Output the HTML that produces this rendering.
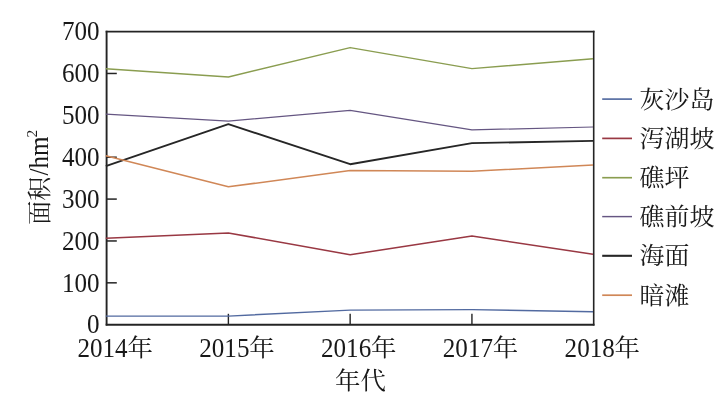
<!DOCTYPE html>
<html lang="zh"><head><meta charset="utf-8"><title>chart</title>
<style>
html,body{margin:0;padding:0;background:#fff;}
body{width:722px;height:405px;overflow:hidden;}
svg{display:block;}
text{font-family:"Liberation Serif","Noto Serif CJK SC",serif;font-size:24px;fill:#181818;}
</style></head><body>
<svg width="722" height="405" viewBox="0 0 722 405">
<rect width="722" height="405" fill="#fff"/>
<path d="M106.6,282.83 H116.8" stroke="#242424" stroke-width="1.5"/>
<path d="M106.6,240.96 H116.8" stroke="#242424" stroke-width="1.5"/>
<path d="M106.6,199.09 H116.8" stroke="#242424" stroke-width="1.5"/>
<path d="M106.6,157.21 H116.8" stroke="#242424" stroke-width="1.5"/>
<path d="M106.6,73.47 H116.8" stroke="#242424" stroke-width="1.5"/>
<path d="M228.38,324.7 V313.8" stroke="#242424" stroke-width="1.4"/>
<path d="M350.15,324.7 V313.8" stroke="#242424" stroke-width="1.4"/>
<path d="M471.93,324.7 V313.8" stroke="#242424" stroke-width="1.4"/>
<path d="M106.6,30.8 V325.60" stroke="#242424" stroke-width="1.9" fill="none"/>
<path d="M105.70,324.7 H594.5" stroke="#242424" stroke-width="1.9" fill="none"/>
<path d="M105.70,31.6 H594.5" stroke="#242424" stroke-width="1.6" fill="none"/>
<path d="M593.7,30.8 V325.60" stroke="#242424" stroke-width="1.6" fill="none"/>
<polyline points="105.80,316.10 228.38,316.10 350.15,310.10 471.93,309.60 593.00,311.70" fill="none" stroke="#526AA0" stroke-width="1.45" stroke-linejoin="round"/>
<polyline points="105.80,238.20 228.38,232.90 350.15,254.80 471.93,236.10 593.00,254.20" fill="none" stroke="#993843" stroke-width="1.5" stroke-linejoin="round"/>
<polyline points="105.80,68.70 228.38,77.00 350.15,47.60 471.93,68.60 593.00,58.70" fill="none" stroke="#8A9D50" stroke-width="1.45" stroke-linejoin="round"/>
<polyline points="105.80,114.20 228.38,121.10 350.15,110.40 471.93,129.90 593.00,127.00" fill="none" stroke="#655682" stroke-width="1.25" stroke-linejoin="round"/>
<polyline points="105.80,166.20 228.38,124.20 350.15,164.20 471.93,143.10 593.00,140.90" fill="none" stroke="#262626" stroke-width="1.9" stroke-linejoin="round"/>
<polyline points="105.80,155.80 228.38,186.80 350.15,170.60 471.93,171.30 593.00,165.10" fill="none" stroke="#D08757" stroke-width="1.5" stroke-linejoin="round"/>
<text transform="translate(99.50,333.40) scale(1.045,1.15)" text-anchor="end">0</text>
<text transform="translate(99.50,291.53) scale(1.045,1.15)" text-anchor="end">100</text>
<text transform="translate(99.50,249.66) scale(1.045,1.15)" text-anchor="end">200</text>
<text transform="translate(99.50,207.79) scale(1.045,1.15)" text-anchor="end">300</text>
<text transform="translate(99.50,165.91) scale(1.045,1.15)" text-anchor="end">400</text>
<text transform="translate(99.50,124.04) scale(1.045,1.15)" text-anchor="end">500</text>
<text transform="translate(99.50,82.17) scale(1.045,1.15)" text-anchor="end">600</text>
<text transform="translate(99.50,40.30) scale(1.045,1.15)" text-anchor="end">700</text>
<text transform="translate(77.50,356.70) scale(1.045,1.15)" text-anchor="start">2014</text>
<text transform="translate(127.50,355.80) scale(1.06,0.985)" text-anchor="start">年</text>
<text transform="translate(199.28,356.70) scale(1.045,1.15)" text-anchor="start">2015</text>
<text transform="translate(249.28,355.80) scale(1.06,0.985)" text-anchor="start">年</text>
<text transform="translate(321.05,356.70) scale(1.045,1.15)" text-anchor="start">2016</text>
<text transform="translate(371.05,355.80) scale(1.06,0.985)" text-anchor="start">年</text>
<text transform="translate(442.83,356.70) scale(1.045,1.15)" text-anchor="start">2017</text>
<text transform="translate(492.83,355.80) scale(1.06,0.985)" text-anchor="start">年</text>
<text transform="translate(564.60,356.70) scale(1.045,1.15)" text-anchor="start">2018</text>
<text transform="translate(614.60,355.80) scale(1.06,0.985)" text-anchor="start">年</text>
<text transform="translate(335.00,388.60) scale(1.06,0.985)" text-anchor="start">年代</text>
<text transform="translate(47.6,224.7) rotate(-90) scale(1,0.985)">面积</text>
<text transform="translate(47.9,175.5) rotate(-90) scale(1.045,1.15)">/hm</text>
<text transform="translate(36.5,137.5) rotate(-90) scale(1.1,1.05)" style="font-size:14px">2</text>
<path d="M602.2,99.1 H632" stroke="#526AA0" stroke-width="1.65"/>
<text transform="translate(639.50,108.00) scale(1.04,0.985)" text-anchor="start">灰沙岛</text>
<path d="M602.2,138.4 H632" stroke="#993843" stroke-width="1.70"/>
<text transform="translate(639.50,147.20) scale(1.04,0.985)" text-anchor="start">泻湖坡</text>
<path d="M602.2,177.7 H632" stroke="#8A9D50" stroke-width="1.65"/>
<text transform="translate(639.50,186.40) scale(1.04,0.985)" text-anchor="start">礁坪</text>
<path d="M602.2,216.6 H632" stroke="#655682" stroke-width="1.45"/>
<text transform="translate(639.50,225.20) scale(1.04,0.985)" text-anchor="start">礁前坡</text>
<path d="M602.2,255.8 H632" stroke="#262626" stroke-width="2.10"/>
<text transform="translate(639.50,264.30) scale(1.04,0.985)" text-anchor="start">海面</text>
<path d="M602.2,295.2 H632" stroke="#D08757" stroke-width="1.70"/>
<text transform="translate(639.50,303.60) scale(1.04,0.985)" text-anchor="start">暗滩</text>
</svg>
</body></html>
